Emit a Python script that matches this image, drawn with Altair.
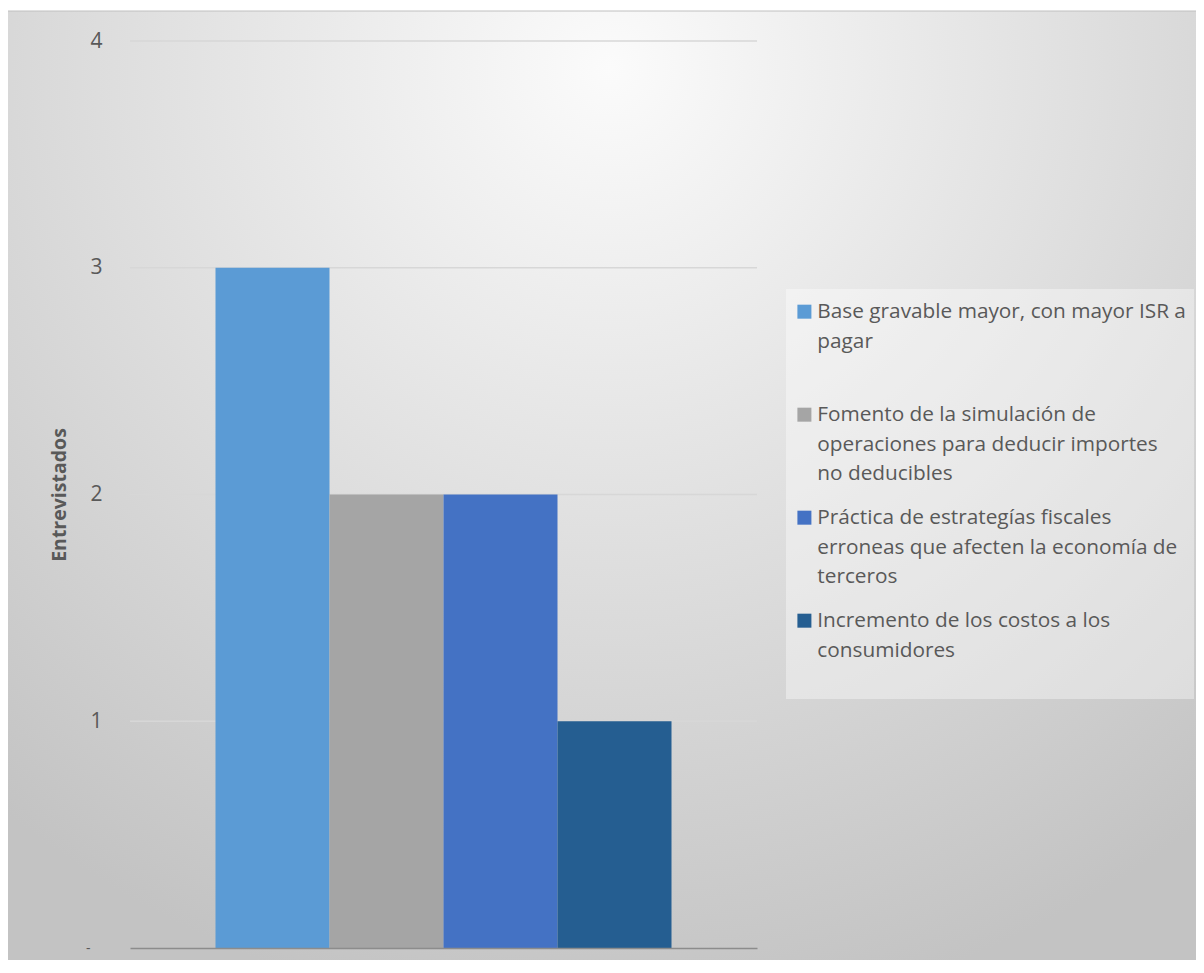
import altair as alt
import pandas as pd

# ---- data -------------------------------------------------------------
categorias = [
    "Base gravable mayor, con mayor ISR a pagar",
    "Fomento de la simulación de operaciones para deducir importes no deducibles",
    "Práctica de estrategías fiscales erroneas que afecten la economía de terceros",
    "Incremento de los costos a los consumidores",
]
entrevistados = [3, 2, 2, 1]
colores = ["#5B9BD5", "#A5A5A5", "#4472C4", "#255E91"]
lineas_leyenda = [
    ["Base gravable mayor, con mayor ISR a", "pagar", ""],
    ["Fomento de la simulación de", "operaciones para deducir importes", "no deducibles"],
    ["Práctica de estrategías fiscales", "erroneas que afecten la economía de", "terceros"],
    ["Incremento de los costos a los", "consumidores", ""],
]
y_ticks = [0, 1, 2, 3, 4]
titulo_y = "Entrevistados"

# ---- layout -----------------------------------------------------------
W, H = 627, 907
PAD_L, PAD_T, PAD_R, PAD_B = 122, 33, 439, 12
FONT = "Open Sans"

df = pd.DataFrame({
    "grupo": ["g"] * len(categorias),
    "categoria": categorias,
    "valor": entrevistados,
})
df_grid = pd.DataFrame({"valor": y_ticks[1:]})

# legend label expression -> multi-line labels
expr = "datum.label"
for cat, lines in reversed(list(zip(categorias, lineas_leyenda))):
    arr = "[" + ",".join("'" + l + "'" for l in lines) + "]"
    expr = f"datum.label == '{cat}' ? {arr} : ({expr})"

fondo = alt.Chart(pd.DataFrame({"f": [0]})).mark_rect(
    fill=alt.Gradient(
        gradient="radial",
        stops=[alt.GradientStop(color="#fbfbfb", offset=0),
               alt.GradientStop(color="#c3c3c3", offset=1)],
        x1=0.503, y1=0.14, r1=0, x2=0.503, y2=0.14, r2=0.80,
    ),
    stroke="#c0c0c0", strokeWidth=1,
).encode(
    x=alt.value(-123), x2=alt.value(W + PAD_R + 10),
    y=alt.value(-30), y2=alt.value(H + 40),
)

y_scale = alt.Scale(domain=[0, 4], nice=False)
y_axis = alt.Axis(values=y_ticks, format="d", grid=False, zindex=1,
                  labelExpr="datum.value == 0 ? '-' : datum.label",
                  ticks=False, tickSize=0, domain=False,
                  labelPadding={"expr": "datum.value == 0 ? 40 : 28"},
                  labelFontSize={"expr": "datum.value == 0 ? 14 : 21"},
                  labelColor="#595959",
                  labelFont=FONT,
                  title=titulo_y, titleFontSize=19.5, titleFontWeight="bold",
                  titleColor="#595959", titleFont=FONT, titlePadding=16)

rejilla = alt.Chart(df_grid).mark_rule(color="#d7d7d7", strokeWidth=1.3).encode(
    y=alt.Y("valor:Q", scale=y_scale, axis=y_axis),
)

barras = alt.Chart(df).mark_bar().encode(
    x=alt.X("grupo:N",
            scale=alt.Scale(paddingInner=0, paddingOuter=0.1875),
            axis=alt.Axis(labels=False, ticks=False, title=None, grid=False,
                          domainColor="#8c8c8c", domainWidth=1.6, zindex=1)),
    xOffset=alt.XOffset("categoria:N", sort=categorias,
                        scale=alt.Scale(paddingInner=0, paddingOuter=0)),
    y=alt.Y("valor:Q", scale=y_scale, axis=y_axis),
    color=alt.Color("categoria:N",
                    scale=alt.Scale(domain=categorias, range=colores),
                    sort=categorias,
                    legend=alt.Legend(
                        title="\u00a0", titleFontSize=4, titlePadding=7,
                        orient="none", legendX=656, legendY=248,
                        labelExpr=expr, labelFont=FONT, labelFontSize=20.8,
                        labelColor="#595959", labelLimit=600,
                        labelBaseline="alphabetic",
                        labelOffset=2.5,
                        symbolType="M-1,-1.96H1V0.04H-1Z", symbolSize=196,
                        symbolStrokeWidth=0, symbolOpacity=1,
                        columns=1, gridAlign="all", rowPadding=22,
                        padding=8, fillColor="rgba(255,255,255,0.38)",
                    )),
)

chart = alt.layer(fondo, rejilla, barras).properties(
    width=W, height=H,
    padding={"left": PAD_L, "top": PAD_T, "right": PAD_R, "bottom": PAD_B},
    autosize=alt.AutoSizeParams(type="none"),
    background="white",
).configure_view(stroke=None).configure(
    font=FONT,
    style={"guide-label": {"lineHeight": 29.5}},
)

chart.save("out.html", embed_options={"renderer": "svg", "actions": False})
